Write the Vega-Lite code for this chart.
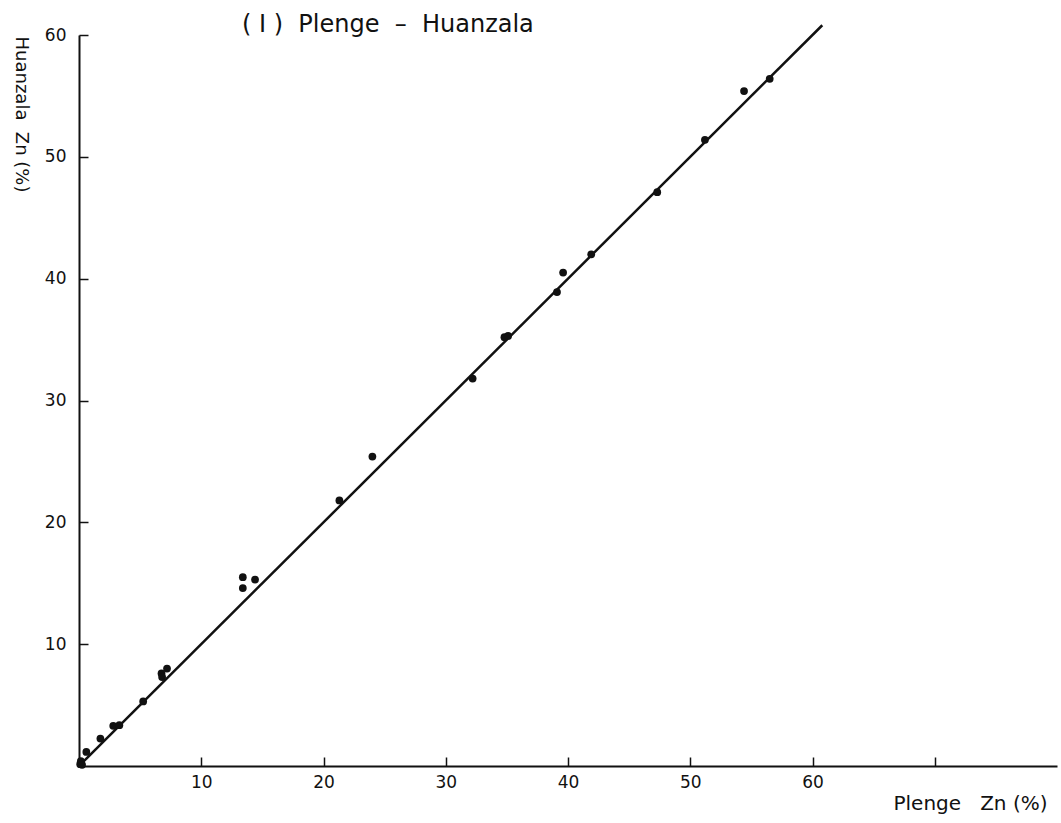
{
  "$schema": "https://vega.github.io/schema/vega-lite/v6.json",
  "width": 978,
  "height": 731,
  "autosize": {"type": "none"},
  "padding": {"left": 79, "top": 35, "right": 4, "bottom": 57},
  "background": "white",
  "title": {
    "text": "(\u00a0I\u00a0)\u00a0\u00a0Plenge\u00a0\u00a0–\u00a0\u00a0Huanzala",
    "anchor": "start",
    "frame": "group",
    "dx": 163,
    "dy": 17,
    "offset": 0,
    "font": "DejaVu Sans",
    "fontSize": 24,
    "fontWeight": "normal",
    "color": "#111"
  },
  "config": {
    "view": {"stroke": null},
    "axis": {
      "grid": false,
      "domainColor": "#111",
      "domainWidth": 2,
      "tickColor": "#111",
      "tickWidth": 1.5,
      "labelFont": "DejaVu Sans",
      "labelFontSize": 17,
      "labelColor": "#111",
      "titleFont": "DejaVu Sans",
      "titleFontSize": 18,
      "titleFontWeight": "normal",
      "titleColor": "#111"
    }
  },
  "resolve": {"axis": {"x": "independent", "y": "independent"}},
  "datasets": {
    "pts": [
      {"plenge": 0.1, "huanzala": 0.15},
      {"plenge": 0.15, "huanzala": 0.4},
      {"plenge": 0.25, "huanzala": 0.1},
      {"plenge": 0.6, "huanzala": 1.15},
      {"plenge": 1.75, "huanzala": 2.25},
      {"plenge": 2.8, "huanzala": 3.3},
      {"plenge": 3.3, "huanzala": 3.35},
      {"plenge": 5.25, "huanzala": 5.3},
      {"plenge": 6.75, "huanzala": 7.6},
      {"plenge": 7.2, "huanzala": 8.0},
      {"plenge": 6.8, "huanzala": 7.3},
      {"plenge": 13.4, "huanzala": 15.5},
      {"plenge": 14.4, "huanzala": 15.3},
      {"plenge": 13.4, "huanzala": 14.6},
      {"plenge": 21.3, "huanzala": 21.8},
      {"plenge": 24.0, "huanzala": 25.4},
      {"plenge": 32.2, "huanzala": 31.8},
      {"plenge": 34.8, "huanzala": 35.2},
      {"plenge": 35.1, "huanzala": 35.3},
      {"plenge": 39.1, "huanzala": 38.9},
      {"plenge": 39.6, "huanzala": 40.5},
      {"plenge": 41.9, "huanzala": 42.0},
      {"plenge": 47.3, "huanzala": 47.1},
      {"plenge": 51.2, "huanzala": 51.4},
      {"plenge": 54.4, "huanzala": 55.4},
      {"plenge": 56.5, "huanzala": 56.4}
    ],
    "fit": [
      {"plenge": 0, "huanzala": 0},
      {"plenge": 60.8, "huanzala": 60.8}
    ]
  },
  "layer": [
    {
      "data": {"name": "fit"},
      "mark": {"type": "line", "color": "#111", "strokeWidth": 2.5, "clip": false},
      "encoding": {
        "x": {
          "field": "plenge", "type": "quantitative",
          "scale": {"domain": [0, 80], "nice": false, "zero": true},
          "axis": {
            "orient": "bottom",
            "values": [10, 20, 30, 40, 50, 60],
            "ticks": false,
            "labelPadding": 8,
            "title": "Plenge\u00a0\u00a0\u00a0Zn\u00a0(%)",
            "titleFontSize": 20,
            "titleX": 891,
            "titleY": 37,
            "titleAlign": "center",
            "titleBaseline": "middle"
          }
        },
        "y": {
          "field": "huanzala", "type": "quantitative",
          "scale": {"domain": [0, 60], "nice": false, "zero": true},
          "axis": {
            "orient": "left",
            "values": [10, 20, 30, 40, 50, 60],
            "ticks": false,
            "labelPadding": 13,
            "title": "Huanzala\u00a0\u00a0Zn\u00a0(%)",
            "titleAngle": 90,
            "titleX": -59,
            "titleY": 79,
            "titleAlign": "center",
            "titleBaseline": "middle"
          }
        }
      }
    },
    {
      "data": {"name": "pts"},
      "mark": {"type": "circle", "color": "#111", "opacity": 1, "size": 60},
      "encoding": {
        "x": {
          "field": "plenge", "type": "quantitative",
          "axis": {
            "orient": "top",
            "offset": -731,
            "values": [10, 20, 30, 40, 50, 60, 70],
            "domain": false,
            "labels": false,
            "tickSize": 9,
            "title": null
          }
        },
        "y": {
          "field": "huanzala", "type": "quantitative",
          "axis": {
            "orient": "right",
            "offset": -978,
            "values": [10, 20, 30, 40, 50, 60],
            "domain": false,
            "labels": false,
            "tickSize": 9,
            "title": null
          }
        }
      }
    }
  ]
}
